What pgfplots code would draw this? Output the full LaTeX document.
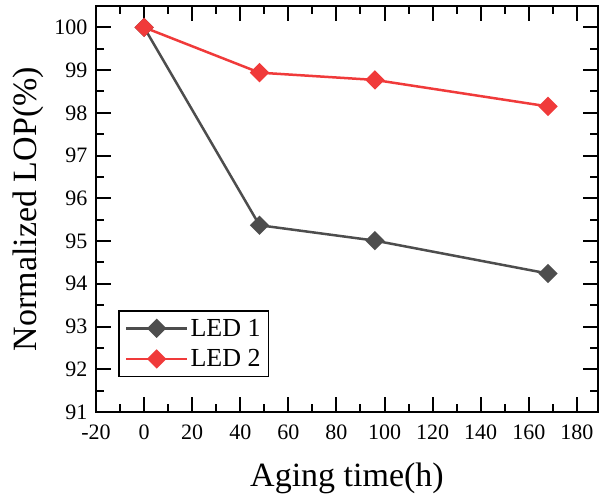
\documentclass[border=0pt]{standalone}
\usepackage{pgfplots}
\pgfplotsset{compat=1.18}
\usepackage{fontspec}
\setmainfont{Liberation Serif}
\definecolor{ledone}{HTML}{4D4D4D}
\definecolor{ledtwo}{HTML}{F03A3A}
\begin{document}
\begin{tikzpicture}
\begin{axis}[
  name=main,
  scale only axis,
  width=502pt, height=406pt,
  xmin=-20, xmax=188.8, ymin=91, ymax=100.5,
  xtick={-20,0,...,180}, ytick={91,...,100},
  minor x tick num=1, minor y tick num=1,
  tick align=inside, tick pos=both,
  major tick length=15pt, minor tick length=8pt,
  every major tick/.append style={black, line width=2pt},
  every minor tick/.append style={black, line width=2pt},
  axis line style={black, line width=2pt},
  /pgf/number format/assume math mode=true,
  ticklabel style={font=\fontsize{22}{26}\selectfont},
  xticklabel style={yshift=-9pt},
  yticklabel style={xshift=-5pt},
  xlabel={Aging time(h)}, ylabel={Normalized LOP(\%)},
  label style={font=\fontsize{34}{40}\selectfont},
  xlabel style={yshift=-17pt},
  ylabel style={yshift=4pt},
  legend style={at={(rel axis cs:0.044,0.086)}, anchor=south west,
    draw=black, line width=1.5pt, font=\fontsize{26}{30}\selectfont,
    inner sep=6pt, row sep=8pt},
  legend cell align=left,
  legend image code/.code={\draw[#1, mark=none] (0cm,0cm) -- (2.15cm,0cm); \draw[#1, only marks] plot coordinates {(1.075cm,0cm)};},
]
\addplot[ledone, line width=2.5pt, mark=square*, mark size=5.6pt, mark options={solid, fill=ledone, rotate=45}] coordinates {(0,100) (48,95.37) (96,95.01) (168,94.24)};
\addlegendentry{LED 1}
\addplot[ledtwo, line width=2.5pt, mark=square*, mark size=5.6pt, mark options={solid, fill=ledtwo, rotate=45}] coordinates {(0,100) (48,98.94) (96,98.77) (168,98.15)};
\addlegendentry{LED 2}
\end{axis}
\pgfresetboundingbox
\path ([xshift=-96pt,yshift=-85pt]main.south west) rectangle ([xshift=2pt,yshift=6pt]main.north east);
\end{tikzpicture}
\end{document}
